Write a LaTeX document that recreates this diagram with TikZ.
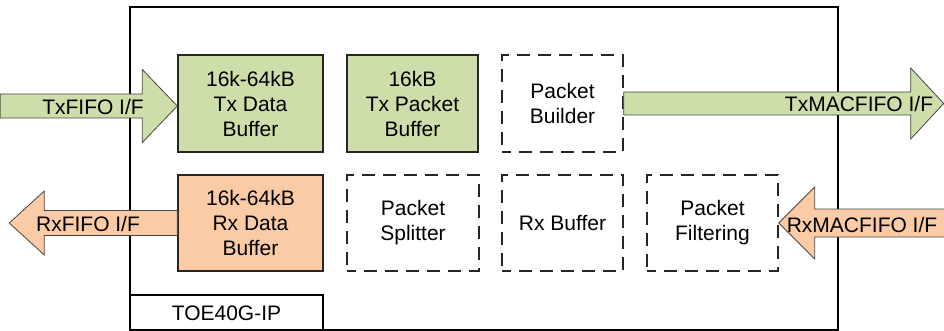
\documentclass[tikz,border=0pt]{standalone}
\usepackage{fontspec}
\setmainfont{Liberation Sans}
\usetikzlibrary{calc}
\definecolor{txgreen}{RGB}{205,222,170}
\definecolor{rxorange}{RGB}{250,203,165}
\definecolor{arrowline}{RGB}{70,70,70}
\tikzset{
  lbl/.style={font=\fontsize{21}{25}\selectfont, align=center, inner sep=0pt},
  blk/.style={lbl, draw=black!85, line width=1.4pt, minimum height=97pt},
  gblk/.style={blk, fill=txgreen},
  oblk/.style={blk, fill=rxorange},
  dblk/.style={blk, dash pattern=on 13pt off 8pt, dash phase=4pt},
  garrow/.style={draw=arrowline, line width=0.8pt, fill=txgreen, line join=miter},
  oarrow/.style={draw=arrowline, line width=0.8pt, fill=rxorange, line join=miter},
  frame/.style={draw=black, line width=1.3pt}
}
\begin{document}
\begin{tikzpicture}[x=1pt,y=-1pt]
\useasboundingbox (0,0) rectangle (944,331);
% main frame
\draw[frame] (130,7) rectangle (838,330);
\node[lbl, draw=black, line width=1.3pt, minimum width=193pt, minimum height=36pt] (toe) at (226.5,313) {TOE40G-IP};
% row 1
\node[gblk, minimum width=145pt] (txd) at (250.5,103.5) {16k-64kB\\Tx Data\\Buffer};
\node[gblk, minimum width=131pt] (txp) at (412.5,103.5) {16kB\\Tx Packet\\Buffer};
\node[dblk, minimum width=121pt] (pb) at (562.5,103.5) {Packet\\Builder};
% row 2
\node[oblk, minimum width=145pt, minimum height=96pt] (rxd) at (250.5,223) {16k-64kB\\Rx Data\\Buffer};
\node[dblk, minimum width=132pt, minimum height=96pt] (ps) at (413,223) {Packet\\Splitter};
\node[dblk, minimum width=121pt, minimum height=96pt] (rxb) at (562.5,223) {Rx Buffer};
\node[dblk, minimum width=131pt, minimum height=96pt] (pf) at (712.5,223) {Packet\\Filtering};
% TxFIFO arrow (into Tx Data Buffer)
\coordinate (t1) at ($(txd.west)+(0,2.5)$);
\draw[garrow] (t1) -- ++(-35,-36.5) -- ++(0,24.5) -- ++(-142,0) -- ++(0,24) -- ++(142,0) -- ++(0,24.5) -- cycle;
\node[lbl] (txfifo) at (93,107) {TxFIFO I/F};
% TxMACFIFO arrow (out of Packet Builder)
\coordinate (t2) at ($(pb.east)+(0,0)$);
\draw[garrow] (t2) ++(0,-11.5) -- ++(287,0) -- ++(0,-24) -- ++(33,35.5) -- ++(-33,35.5) -- ++(0,-24) -- ++(-287,0) -- cycle;
\node[lbl] (txmac) at (859,104) {TxMACFIFO I/F};
% RxFIFO arrow (out of Rx Data Buffer)
\coordinate (r1) at (rxd.west);
\draw[oarrow] (r1) ++(0,-12.5) -- ++(-133,0) -- ++(0,-19.5) -- ++(-35,32) -- ++(35,32) -- ++(0,-19.5) -- ++(133,0) -- cycle;
\node[lbl] (rxfifo) at (88,224) {RxFIFO I/F};
% RxMACFIFO arrow (into Packet Filtering)
\coordinate (r2) at (pf.east);
\draw[oarrow] (r2) -- ++(36,-36) -- ++(0,22) -- ++(135,0) -- ++(0,28) -- ++(-135,0) -- ++(0,22) -- cycle;
\node[lbl] (rxmac) at (862,225) {RxMACFIFO I/F};
\end{tikzpicture}
\end{document}
